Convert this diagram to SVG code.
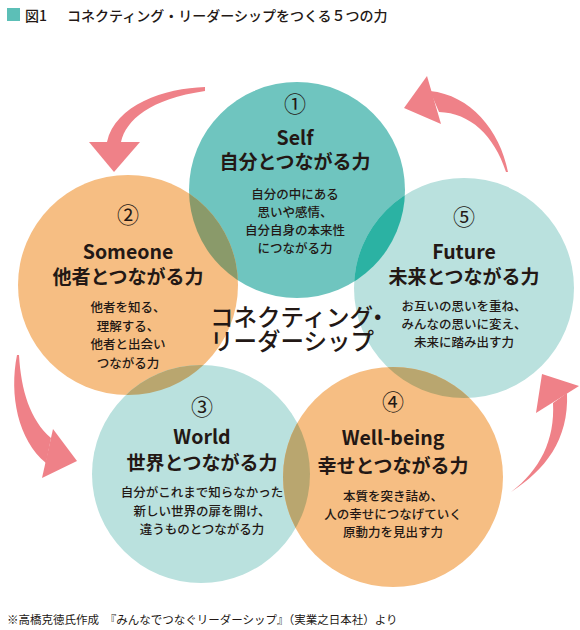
<svg xmlns="http://www.w3.org/2000/svg" width="580" height="630" viewBox="0 0 580 630">
<style>
text{font-family:"Noto Sans CJK JP","Noto Sans",sans-serif;fill:#231815;text-anchor:middle}
.num{font-size:22px}
.en{font-size:19.5px;font-weight:bold}
.jt{font-size:19px;font-weight:bold}
.b{font-size:12.5px;font-weight:500}
.c{font-size:23.5px;font-weight:500;text-anchor:start}
.arrow{fill:#ef8188}
</style>
<defs>
<clipPath id="k1"><circle cx="297" cy="190" r="108"/></clipPath>
<clipPath id="k3"><circle cx="201" cy="474" r="109"/></clipPath>
<clipPath id="k5"><circle cx="464" cy="288" r="110"/></clipPath>
</defs>
<rect width="580" height="630" fill="#fff"/>
<g id="title">
<rect x="7" y="8" width="13" height="13" fill="#5cbfb7"/>
<text x="25" y="21" style="font-size:14px;font-weight:500;text-anchor:start">図1</text>
<text x="67" y="21" style="font-size:14px;font-weight:500;text-anchor:start">コネクティング・リーダーシップをつくる５つの力</text>
</g>
<g id="circles">
<circle cx="297" cy="190" r="108" fill="#6fc5bf"/>
<circle cx="128" cy="285" r="110" fill="#f6be83"/>
<circle cx="464" cy="288" r="110" fill="#bae1de"/>
<circle cx="201" cy="474" r="109" fill="#bae1de"/>
<circle cx="393" cy="477" r="110" fill="#f6be83"/>
<circle cx="128" cy="285" r="110" fill="#8a9a6a" clip-path="url(#k1)"/>
<circle cx="464" cy="288" r="110" fill="#2bb2a3" clip-path="url(#k1)"/>
<circle cx="128" cy="285" r="110" fill="#b9a66f" clip-path="url(#k3)"/>
<circle cx="393" cy="477" r="110" fill="#b9a66f" clip-path="url(#k3)"/>
<circle cx="393" cy="477" r="110" fill="#b9a66f" clip-path="url(#k5)"/>
</g>
<g id="connectors">
<path class="arrow" d="M205,87 C165,88 115,105 107,142 L121,142 C126,120 150,99 205,91 Z"/>
<polygon class="arrow" points="89,142 140,142 114,172"/>
<path class="arrow" d="M508,172 C500,130 470,95 430,91 L439,112 C470,113 494,135 506,172 Z"/>
<polygon class="arrow" points="427,76 404,108 441,124"/>
<path class="arrow" d="M17,355 C9,395 18,440 46,463 L51,438 C30,420 21,390 19,355 Z"/>
<polygon class="arrow" points="53,429 77,461 42,478"/>
<path class="arrow" d="M511,492 C545,470 569,440 567,393 L553,403 C555,440 540,470 511,492 Z"/>
<polygon class="arrow" points="542,374 579,386 536,413"/>
</g>
<g id="node1">
<text class="num" x="295" y="112">①</text>
<text class="en" x="295" y="145">Self</text>
<text class="jt" x="295" y="169">自分とつながる力</text>
<text class="b" x="295" y="199">自分の中にある</text>
<text class="b" x="295" y="217">思いや感情、</text>
<text class="b" x="295" y="235">自分自身の本来性</text>
<text class="b" x="295" y="253">につながる力</text>
</g>
<g id="node2">
<text class="num" x="128" y="223">②</text>
<text class="en" x="128" y="259">Someone</text>
<text class="jt" x="128" y="284">他者とつながる力</text>
<text class="b" x="128" y="312">他者を知る、</text>
<text class="b" x="128" y="330.5">理解する、</text>
<text class="b" x="128" y="349">他者と出会い</text>
<text class="b" x="128" y="367.5">つながる力</text>
</g>
<g id="node3">
<text class="num" x="202" y="415">③</text>
<text class="en" x="202" y="444">World</text>
<text class="jt" x="202" y="470">世界とつながる力</text>
<text class="b" x="202" y="497">自分がこれまで知らなかった</text>
<text class="b" x="202" y="516">新しい世界の扉を開け、</text>
<text class="b" x="202" y="534">違うものとつながる力</text>
</g>
<g id="node4">
<text class="num" x="393" y="410">④</text>
<text class="en" x="393" y="445">Well-being</text>
<text class="jt" x="393" y="473">幸せとつながる力</text>
<text class="b" x="393" y="501">本質を突き詰め、</text>
<text class="b" x="393" y="519">人の幸せにつなげていく</text>
<text class="b" x="393" y="537">原動力を見出す力</text>
</g>
<g id="node5">
<text class="num" x="464" y="225">⑤</text>
<text class="en" x="464" y="259">Future</text>
<text class="jt" x="464" y="284">未来とつながる力</text>
<text class="b" x="464" y="311">お互いの思いを重ね、</text>
<text class="b" x="464" y="329">みんなの思いに変え、</text>
<text class="b" x="464" y="347">未来に踏み出す力</text>
</g>
<g id="center">
<text class="c" x="210" y="326">コネクティング<tspan dx="-7">・</tspan></text>
<text class="c" x="210" y="350">リーダーシップ</text>
</g>
<g id="footer">
<text x="7" y="624" style="font-size:11.5px;text-anchor:start">※高橋克徳氏作成　『みんなでつなぐリーダーシップ』（実業之日本社）より</text>
</g>
</svg>
